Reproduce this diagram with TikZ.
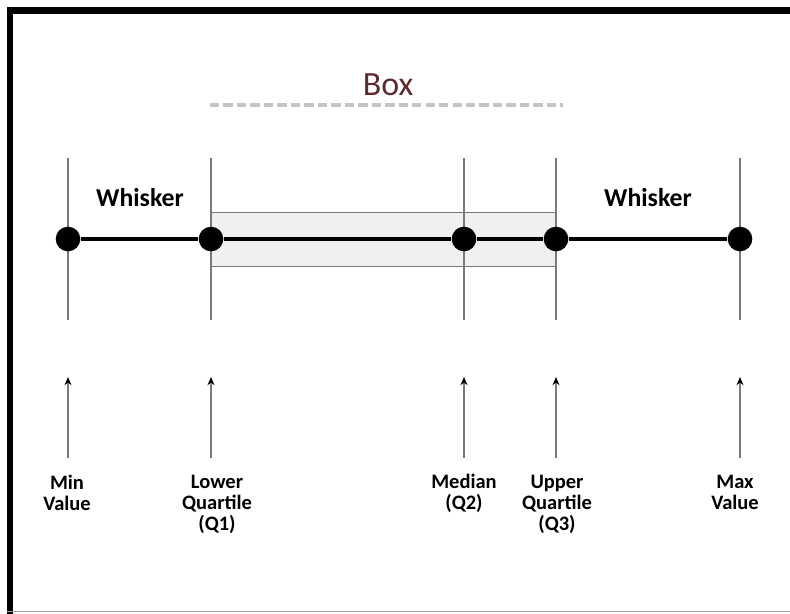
\documentclass[tikz,border=0pt]{standalone}
\usepackage[rgb]{xcolor}
\usepackage{fontspec}
\setmainfont{Carlito}
\usepackage{tikz}
\usetikzlibrary{arrows.meta}

\definecolor{boxbrown}{HTML}{5C2B2B}
\definecolor{boxfill}{HTML}{F0F0F0}
\definecolor{linegray}{HTML}{7A7A7A}
\definecolor{dashgray}{HTML}{C4C4C4}

\begin{document}
\begin{tikzpicture}[x=0.03cm, y=-0.03cm,
  dot/.style={circle, fill=black, inner sep=0pt, minimum size=21pt},
  tick/.style={linegray, line width=1.1pt},
  uparrow/.style={linegray, line width=1.1pt, -{Stealth[length=7pt, width=6pt, color=black]}},
  whisk/.style={font=\bfseries\fontsize{22}{24}\selectfont, anchor=base},
  lbl/.style={font=\bfseries\fontsize{17.5}{18}\selectfont, align=center, anchor=north, inner sep=0pt}]

\useasboundingbox (0,0) rectangle (790,613);

% Frame
\draw[line width=5.5pt, line join=miter] (10,620) -- (10,10.5) -- (800,10.5) ;
\draw[linegray!70, line width=1.2pt] (7,611.5) -- (800,611.5) ;


%
% Box title
%
\path 
(388,95) node [anchor=base, text=boxbrown, font=\fontsize{29}{32}\selectfont] (boxtitle) {Box};

\draw[dashgray, line width=3.2pt, dash pattern=on 8pt off 3.5pt] (210,105) -- (563,105) ;


% The box (Q1 to Q3)
\filldraw[fill=boxfill, draw=linegray, line width=0.8pt] (211,212) rectangle (556,266);


% Vertical guide lines
\draw[tick] (68,158) -- (68,320) ;
\draw[tick] (211,158) -- (211,320) ;
\draw[tick] (464,158) -- (464,320) ;
\draw[tick] (556,158) -- (556,320) ;
\draw[tick] (740,158) -- (740,320) ;


%
% Five points
%
\path 
(68,239) node [dot] (minpt) {}
(211,239) node [dot] (qonept) {}
(464,239) node [dot] (medpt) {}
(556,239) node [dot] (qthreept) {}
(740,239) node [dot] (maxpt) {};

\draw[line width=2.8pt] (minpt) -- (qonept) -- (medpt) -- (qthreept) -- (maxpt) ;


% Whisker labels
\path 
(140,206) node [whisk] (leftwhisk) {Whisker};
\path 
(648,206) node [whisk] (rightwhisk) {Whisker};


%
% Arrows
%
\coordinate (minfoot) at (68,458);
\coordinate (qonefoot) at (211,458);
\coordinate (medfoot) at (464,458);
\coordinate (qthreefoot) at (556,458);
\coordinate (maxfoot) at (740,458);

\draw[uparrow] (minfoot) -- ++(0,-81) ;
\draw[uparrow] (qonefoot) -- ++(0,-81) ;
\draw[uparrow] (medfoot) -- ++(0,-81) ;
\draw[uparrow] (qthreefoot) -- ++(0,-81) ;
\draw[uparrow] (maxfoot) -- ++(0,-81) ;


% Bottom labels
\path 
(67,475) node [lbl] (minlbl) {Min\\Value};
\path 
(217,475) node [lbl] (qonelbl) {Lower\\Quartile\\(Q1)};
\path 
(464,474) node [lbl] (medlbl) {Median\\(Q2)};
\path 
(557,475) node [lbl] (qthreelbl) {Upper\\Quartile\\(Q3)};
\path 
(735,475) node [lbl] (maxlbl) {Max\\Value};


\end{tikzpicture}
\end{document}
